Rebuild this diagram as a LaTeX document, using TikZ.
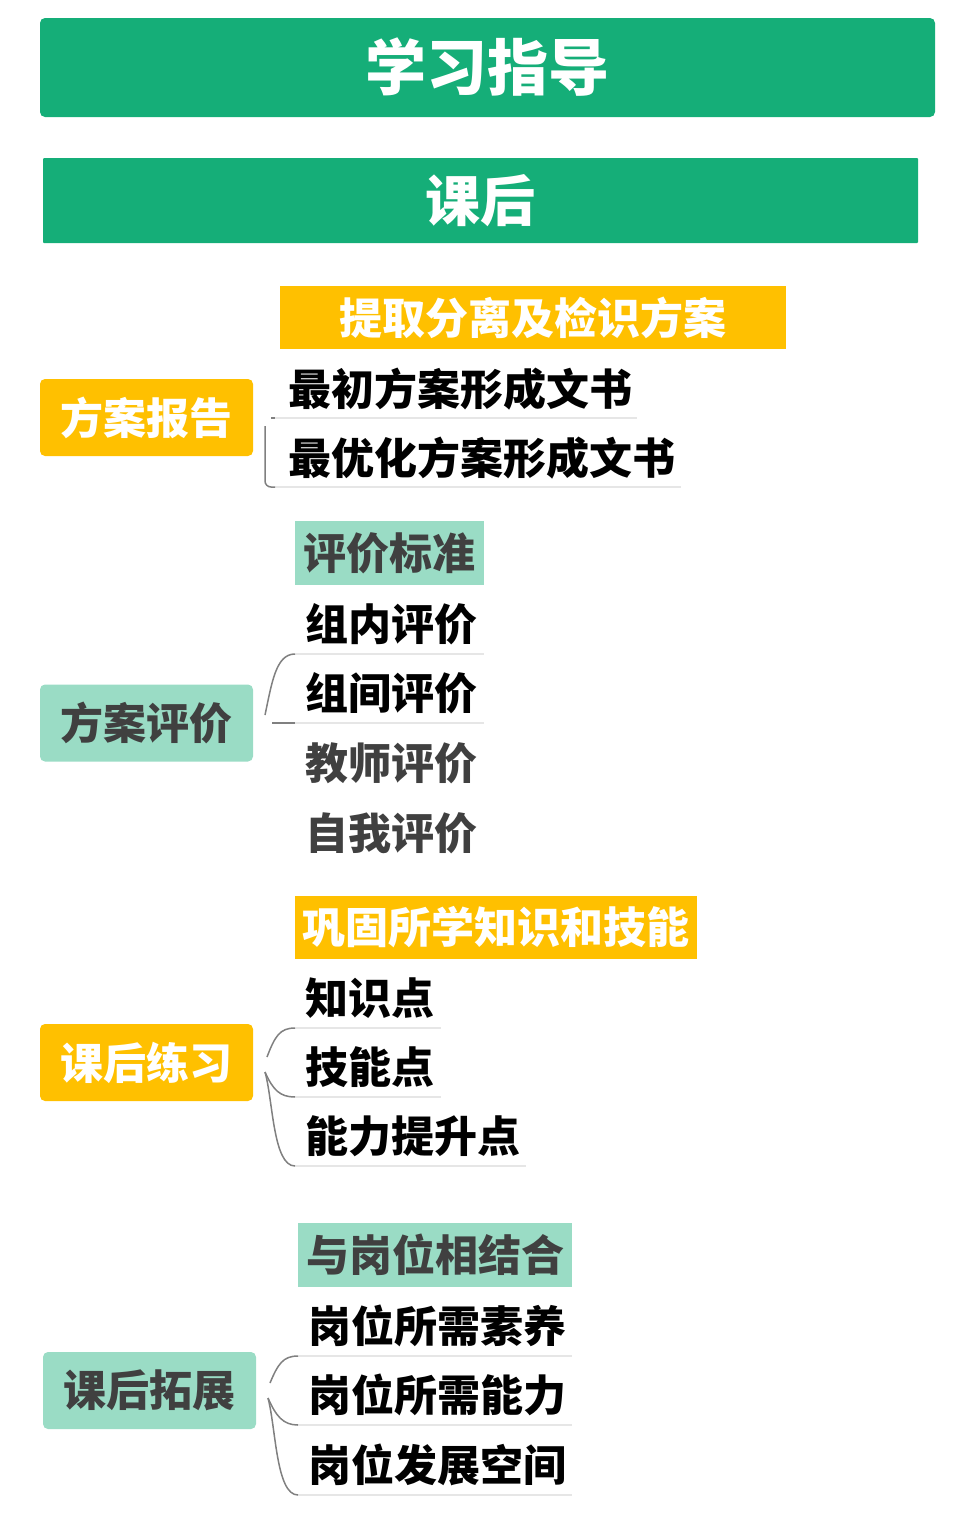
\documentclass[tikz,border=0pt]{standalone}
\usepackage{fontspec}
\setmainfont{Noto Sans CJK SC}
\definecolor{hgreen}{HTML}{15AE78}
\definecolor{hyellow}{HTML}{FFC000}
\definecolor{lgreen}{HTML}{9ADCC5}
\definecolor{dgrey}{HTML}{404040}
\definecolor{ulgrey}{HTML}{E6E6E6}
\definecolor{cgrey}{HTML}{808080}
\begin{document}
\begin{tikzpicture}[x=1pt,y=-1pt,
  every node/.style={inner sep=0pt,outer sep=0pt},
  big/.style={font=\bfseries\fontsize{43}{46}\selectfont},
  headbox/.style={fill=hgreen,text=white,font=\bfseries\fontsize{#1}{#1}\selectfont},
  ybox/.style={big,fill=hyellow,text=white},
  gbox/.style={big,fill=lgreen,text=dgrey},
  parbox/.style={rounded corners=5pt,minimum width=213pt,minimum height=77pt},
  kid/.style={big,anchor=west,text=black},
  kidg/.style={big,anchor=west,text=dgrey},
  uline/.style={draw=ulgrey,line width=2pt},
  conn/.style={draw=cgrey,line width=1.5pt}
]
\useasboundingbox (0,0) rectangle (973,1521);
% headers
\node[headbox=61,rounded corners=5pt,minimum width=895pt,minimum height=99pt] (title) at (487.5,67.5) {\raisebox{-3pt}{学习指导}};
\node[headbox=55,rounded corners=1pt,minimum width=875pt,minimum height=85pt] (after) at (480.5,200.5) {\raisebox{-4pt}{课后}};

% section 1
\node[ybox,minimum width=506pt,minimum height=63pt] (s1h) at (533,317.5) {提取分离及检识方案};
\node[ybox,parbox] (p1) at (146.5,417.5) {方案报告};
\node[kid] (c11) at (288,389) {最初方案形成文书};
\node[kid] (c12) at (288,458) {最优化方案形成文书};
\coordinate (u11a) at (275,418); \coordinate (u11b) at (637,418);
\coordinate (u12a) at (275,487); \coordinate (u12b) at (681,487);
\draw[uline] (u11a) -- (u11b);
\draw[uline] (u12a) -- (u12b);
\coordinate (p1o) at (265,426);
\coordinate (p1t) at (271,418);
\draw[conn] (p1t) -- (u11a);
\draw[conn,rounded corners=6pt] (p1o) -- (265,487) -- (u12a);

% section 2
\node[gbox,minimum width=189pt,minimum height=64pt] (s2h) at (389.5,553) {评价标准};
\node[gbox,parbox] (p2) at (146.5,723) {方案评价};
\node[kid] (c21) at (305,624) {组内评价};
\node[kid] (c22) at (305,693) {组间评价};
\node[kidg] (c23) at (305,763) {教师评价};
\node[kidg] (c24) at (305,833) {自我评价};
\coordinate (u21a) at (295,654); \coordinate (u21b) at (484,654);
\coordinate (u22a) at (295,723); \coordinate (u22b) at (484,723);
\draw[uline] (u21a) -- (u21b);
\draw[uline] (u22a) -- (u22b);
\coordinate (p2o) at (265,715);
\coordinate (p2b) at (272,723);
\draw[conn] (p2o) .. controls (272,682) and (276,654) .. (u21a);
\draw[conn] (p2b) -- (u22a);

% section 3
\node[ybox,minimum width=402pt,minimum height=63pt] (s3h) at (496,927.5) {巩固所学知识和技能};
\node[ybox,parbox] (p3) at (146.5,1062.5) {课后练习};
\node[kid] (c31) at (305,998) {知识点};
\node[kid] (c32) at (305,1067) {技能点};
\node[kid] (c33) at (305,1136) {能力提升点};
\coordinate (u31a) at (295,1028); \coordinate (u31b) at (441,1028);
\coordinate (u32a) at (295,1097); \coordinate (u32b) at (441,1097);
\coordinate (u33a) at (295,1166); \coordinate (u33b) at (526,1166);
\draw[uline] (u31a) -- (u31b);
\draw[uline] (u32a) -- (u32b);
\draw[uline] (u33a) -- (u33b);
\coordinate (p3o) at (267,1057);
\coordinate (p3p) at (265,1072);
\draw[conn] (p3o) .. controls (275,1036) and (280,1028) .. (u31a);
\draw[conn] (p3p) .. controls (273,1090) and (280,1097) .. (u32a);
\draw[conn] (p3p) .. controls (273,1100) and (273,1166) .. (u33a);

% section 4
\node[gbox,minimum width=274pt,minimum height=64pt] (s4h) at (435,1255) {与岗位相结合};
\node[gbox,parbox] (p4) at (149.5,1390.5) {课后拓展};
\node[kid] (c41) at (308,1326) {岗位所需素养};
\node[kid] (c42) at (308,1395) {岗位所需能力};
\node[kid] (c43) at (308,1465) {岗位发展空间};
\coordinate (u41a) at (298,1356); \coordinate (u41b) at (572,1356);
\coordinate (u42a) at (298,1425); \coordinate (u42b) at (572,1425);
\coordinate (u43a) at (298,1495); \coordinate (u43b) at (572,1495);
\draw[uline] (u41a) -- (u41b);
\draw[uline] (u42a) -- (u42b);
\draw[uline] (u43a) -- (u43b);
\coordinate (p4o) at (270,1383);
\coordinate (p4p) at (268,1398);
\draw[conn] (p4o) .. controls (278,1364) and (283,1356) .. (u41a);
\draw[conn] (p4p) .. controls (276,1416) and (283,1425) .. (u42a);
\draw[conn] (p4p) .. controls (276,1428) and (276,1495) .. (u43a);
\end{tikzpicture}
\end{document}
